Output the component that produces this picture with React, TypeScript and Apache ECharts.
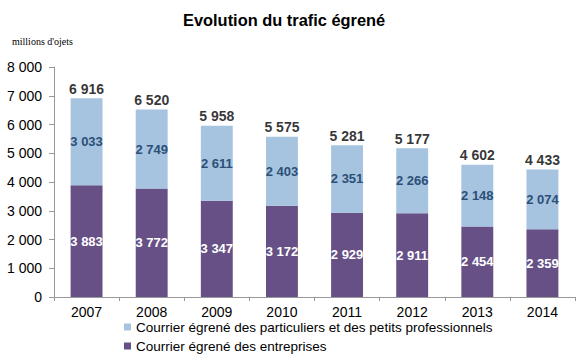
import React, { useEffect, useRef } from "react";
import * as echarts from "echarts";

const years = ["2007", "2008", "2009", "2010", "2011", "2012", "2013", "2014"];
const entreprises = [3883, 3772, 3347, 3172, 2929, 2911, 2454, 2359];
const particuliers = [3033, 2749, 2611, 2403, 2351, 2266, 2148, 2074];
const totals = [6916, 6520, 5958, 5575, 5281, 5177, 4602, 4433];
const yTicks = [0, 1000, 2000, 3000, 4000, 5000, 6000, 7000, 8000];

const nameEnt = "Courrier égrené des entreprises";
const namePart = "Courrier égrené des particuliers et des petits professionnels";

const fmt = (v: number) => String(v).replace(/\B(?=(\d{3})+(?!\d))/g, " ");

export default function App() {
  const ref = useRef<HTMLDivElement>(null);
  useEffect(() => {
    if (!ref.current) return;
    const chart = echarts.init(ref.current, undefined, { renderer: "svg" });
    const font = "Liberation Sans, Arial, sans-serif";
    const legendBase = {
      left: 124,
      itemWidth: 7,
      itemHeight: 7,
      icon: "rect",
      padding: 0,
      textStyle: { fontSize: 13.5, color: "#000", fontFamily: font },
    };
    chart.setOption({
      animation: false,
      textStyle: { fontFamily: font },
      title: {
        text: "Evolution du trafic égrené",
        left: 178,
        top: 7,
        textStyle: { fontSize: 16.4, fontWeight: "bold", color: "#000", fontFamily: font },
      },
      graphic: [
        {
          type: "text",
          left: 12,
          top: 36,
          style: { text: "millions d'ojets", font: "10px 'Liberation Serif', serif", fill: "#000" },
        },
      ],
      legend: [
        { ...legendBase, top: 320, data: [namePart] },
        { ...legendBase, top: 339, data: [nameEnt] },
      ],
      grid: { left: 54, right: 7, top: 67, bottom: 59, containLabel: false },
      xAxis: {
        type: "category",
        data: years,
        axisLine: { lineStyle: { color: "#999" } },
        axisTick: { show: true, length: 4, lineStyle: { color: "#999" } },
        axisLabel: { color: "#000", fontSize: 14, margin: 8, fontFamily: font },
      },
      yAxis: {
        type: "value",
        min: 0,
        max: 8000,
        interval: 1000,
        axisLine: { show: true, lineStyle: { color: "#999" } },
        axisTick: { show: true, length: 5, lineStyle: { color: "#999" } },
        splitLine: { show: false },
        axisLabel: {
          color: "#000",
          fontSize: 14,
          margin: 12,
          fontFamily: font,
          formatter: (v: number) => (yTicks.includes(v) ? fmt(v) : ""),
        },
      },
      series: [
        {
          name: nameEnt,
          type: "bar",
          stack: "t",
          barWidth: "49%",
          data: entreprises,
          itemStyle: { color: "#665086" },
          label: {
            show: true,
            position: "inside",
            color: "#fff",
            fontWeight: "bold",
            fontSize: 13,
            fontFamily: font,
            formatter: (p: any) => fmt(p.value),
          },
        },
        {
          name: namePart,
          type: "bar",
          stack: "t",
          data: particuliers,
          itemStyle: { color: "#A6C3DF" },
          label: {
            show: true,
            position: "inside",
            color: "#2C5077",
            fontWeight: "bold",
            fontSize: 13,
            fontFamily: font,
            formatter: (p: any) => fmt(p.value),
          },
        },
        {
          name: "total",
          type: "scatter",
          data: totals,
          symbolSize: 1,
          itemStyle: { color: "transparent" },
          label: {
            show: true,
            position: "top",
            distance: 2,
            color: "#000",
            fontWeight: "bold",
            fontSize: 14,
            fontFamily: font,
            formatter: (p: any) => fmt(p.value),
          },
          silent: true,
        },
      ],
    });
    return () => chart.dispose();
  }, []);
  return <div ref={ref} style={{ width: 582, height: 356, position: "absolute", left: 0, top: 0 }} />;
}
